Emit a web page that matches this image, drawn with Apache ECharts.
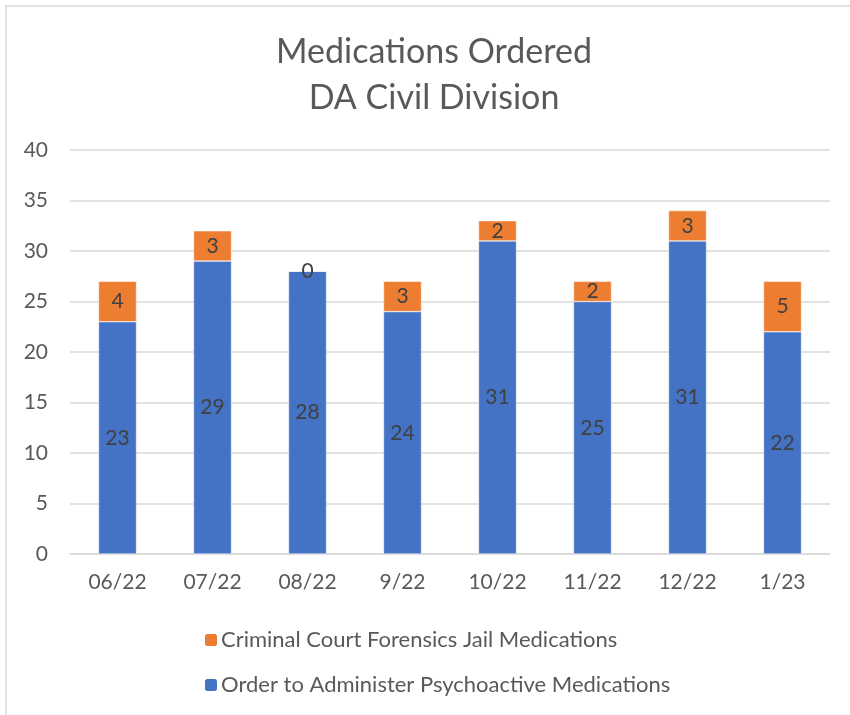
<!DOCTYPE html>
<html><head><meta charset="utf-8">
<script src="https://cdn.jsdelivr.net/npm/echarts@6/dist/echarts.min.js"></script>
<style>html,body{margin:0;padding:0;background:#fff}#c{width:850px;height:715px}</style>
</head><body><div id="c"></div>
<script>
const categories = ['06/22','07/22','08/22','9/22','10/22','11/22','12/22','1/23'];
const orderValues = [23,29,28,24,31,25,31,22];
const criminalValues = [4,3,0,3,2,2,3,5];
const yTicks = [0,5,10,15,20,25,30,35,40];
const FONT = 'Lato, "Open Sans", sans-serif';
const chart = echarts.init(document.getElementById('c'));
const lbl = {show:true, position:'inside', color:'#404040', fontSize:21, fontFamily:FONT};
chart.setOption({
  animation:false,
  graphic:[{type:'rect', shape:{x:6,y:6,width:900,height:800}, style:{fill:null, stroke:'#d9d9d9', lineWidth:1.5}}],
  title:{text:'Medications Ordered\nDA Civil Division', left:429, top:24, textAlign:'center',
    textStyle:{color:'#595959', fontSize:34, fontWeight:'normal', fontFamily:FONT, lineHeight:46}},
  grid:{left:70, right:20, top:150, bottom:161},
  legend:{orient:'vertical', left:198, top:624, itemGap:23, itemWidth:14, itemHeight:14,
    textStyle:{color:'#595959', fontSize:22, fontFamily:FONT, padding:[0,0,0,-2]},
    data:['Criminal Court Forensics Jail Medications','Order to Administer Psychoactive Medications']},
  xAxis:{type:'category', data:categories, axisLine:{lineStyle:{color:'#d9d9d9', width:1.5}}, axisTick:{show:false},
    axisLabel:{color:'#595959', fontSize:21, fontFamily:FONT, margin:18}},
  yAxis:{type:'value', min:0, max:40, interval:5, axisLine:{show:false}, axisTick:{show:false},
    splitLine:{lineStyle:{color:'#d9d9d9', width:1.5}},
    axisLabel:{color:'#595959', fontSize:21, fontFamily:FONT, margin:22,
      formatter:v=>yTicks.includes(v)?String(v):''}},
  series:[
    {name:'Order to Administer Psychoactive Medications', type:'bar', stack:'a', data:orderValues, barWidth:'40%',
     itemStyle:{color:'#4472c4', borderColor:'#fff', borderWidth:0.5}, label:lbl},
    {name:'Criminal Court Forensics Jail Medications', type:'bar', stack:'a', data:criminalValues, barWidth:'40%',
     itemStyle:{color:'#ed7d31', borderColor:'#fff', borderWidth:0.5}, label:lbl}
  ]
});
</script></body></html>
